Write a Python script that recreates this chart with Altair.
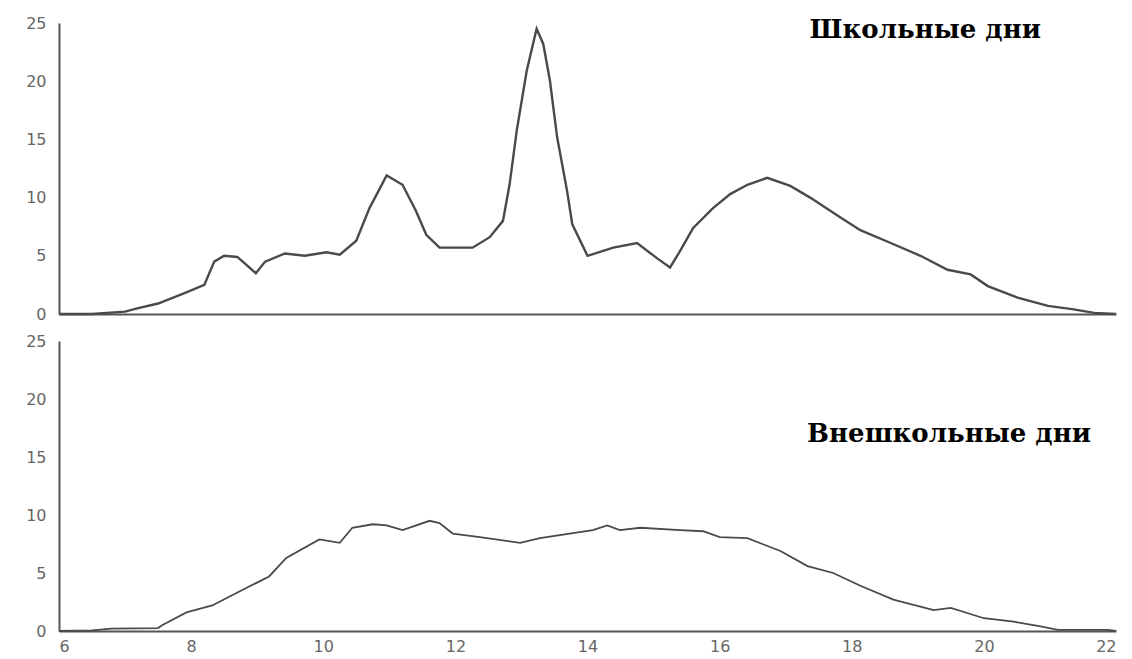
import altair as alt
import pandas as pd

# School days (Школьные дни)
school_hours = [6.0, 6.5, 7.0, 7.2, 7.5, 7.9, 8.2, 8.35, 8.5, 8.7, 8.98, 9.12, 9.42, 9.72,
                10.05, 10.25, 10.5, 10.7, 10.96, 11.2, 11.4, 11.56, 11.76, 12.26, 12.52,
                12.72, 12.82, 12.93, 13.08, 13.23, 13.33, 13.43, 13.54, 13.69, 13.77, 14.0,
                14.39, 14.75, 15.05, 15.25, 15.4, 15.6, 15.9, 16.16, 16.42, 16.72, 17.07,
                17.37, 17.83, 18.13, 18.59, 19.04, 19.45, 19.8, 20.06, 20.51, 20.97, 21.36,
                21.67, 22.0]
school_vals = [0.0, 0.0, 0.2, 0.5, 0.9, 1.8, 2.5, 4.5, 5.0, 4.9, 3.5, 4.5, 5.2, 5.0,
               5.3, 5.1, 6.3, 9.1, 11.9, 11.1, 8.9, 6.8, 5.7, 5.7, 6.6,
               8.0, 11.1, 15.8, 20.9, 24.5, 23.2, 20.1, 15.2, 10.6, 7.7, 5.0,
               5.7, 6.1, 4.8, 4.0, 5.4, 7.4, 9.1, 10.3, 11.1, 11.7, 11.0,
               10.0, 8.3, 7.2, 6.1, 5.0, 3.8, 3.4, 2.4, 1.4, 0.7, 0.4,
               0.1, 0.0]

# Non-school days (Внешкольные дни)
free_hours = [6.0, 6.5, 6.8, 7.5, 7.56, 7.93, 8.32, 8.73, 9.18, 9.44, 9.94, 10.25, 10.44,
              10.75, 10.96, 11.2, 11.61, 11.76, 11.96, 12.37, 12.98, 13.28, 13.63, 14.08,
              14.3, 14.49, 14.8, 15.4, 15.75, 16.0, 16.42, 16.92, 17.33, 17.72, 18.13,
              18.63, 19.24, 19.5, 20.0, 20.45, 20.86, 21.12, 21.88, 22.0]
free_vals = [0.0, 0.05, 0.2, 0.25, 0.5, 1.6, 2.2, 3.4, 4.7, 6.3, 7.9, 7.6, 8.9,
             9.2, 9.1, 8.7, 9.5, 9.3, 8.4, 8.1, 7.6, 8.0, 8.3, 8.7,
             9.1, 8.7, 8.9, 8.7, 8.6, 8.1, 8.0, 6.9, 5.6, 5.0, 3.9,
             2.7, 1.8, 2.0, 1.1, 0.8, 0.4, 0.1, 0.1, 0.0]

x_ticks = [6, 8, 10, 12, 14, 16, 18, 20, 22]
y_ticks = [0, 5, 10, 15, 20, 25]

school_df = pd.DataFrame({"hour": school_hours, "value": school_vals})
free_df = pd.DataFrame({"hour": free_hours, "value": free_vals})

label_font = "DejaVu Sans"
title_font = "DejaVu Serif"

y_enc = alt.Y("value:Q", scale=alt.Scale(domain=[0, 25], nice=False),
              axis=alt.Axis(values=y_ticks, title=None, grid=False, ticks=False,
                            labelPadding=13, labelFontSize=16, labelFont=label_font,
                            labelColor="#666666", domainColor="#555555", domainWidth=2))

top = alt.Chart(school_df).mark_line(color="#4a4a4a", strokeWidth=2.4).encode(
    x=alt.X("hour:Q", scale=alt.Scale(domain=[6, 22], nice=False),
            axis=alt.Axis(values=x_ticks, title=None, grid=False, ticks=False, labels=False,
                          domainColor="#555555", domainWidth=2)),
    y=y_enc,
).properties(
    width=1057, height=291,
    title=alt.TitleParams("Школьные дни", anchor="end", frame="group", orient="top",
                          offset=-28, dx=-75, font=title_font, fontSize=26,
                          fontWeight="bold", color="#000000"),
)

bottom = alt.Chart(free_df).mark_line(color="#4a4a4a", strokeWidth=1.8).encode(
    x=alt.X("hour:Q", scale=alt.Scale(domain=[6, 22], nice=False),
            axis=alt.Axis(values=x_ticks, title=None, grid=False, ticks=False,
                          labelPadding=7, labelFontSize=16, labelFont=label_font,
                          labelColor="#666666", domainColor="#555555", domainWidth=2)),
    y=y_enc,
).properties(
    width=1057, height=290,
    title=alt.TitleParams("Внешкольные дни", anchor="end", frame="group", orient="top",
                          offset=-114, dx=-25, font=title_font, fontSize=26,
                          fontWeight="bold", color="#000000"),
)

chart = alt.vconcat(top, bottom, spacing=27, bounds="flush").properties(
    padding={"left": 17, "top": 7, "right": 0, "bottom": 0},
    background="white",
).configure_view(stroke=None, strokeWidth=0)

chart.save("out.html", embed_options={"renderer": "svg", "actions": False})
